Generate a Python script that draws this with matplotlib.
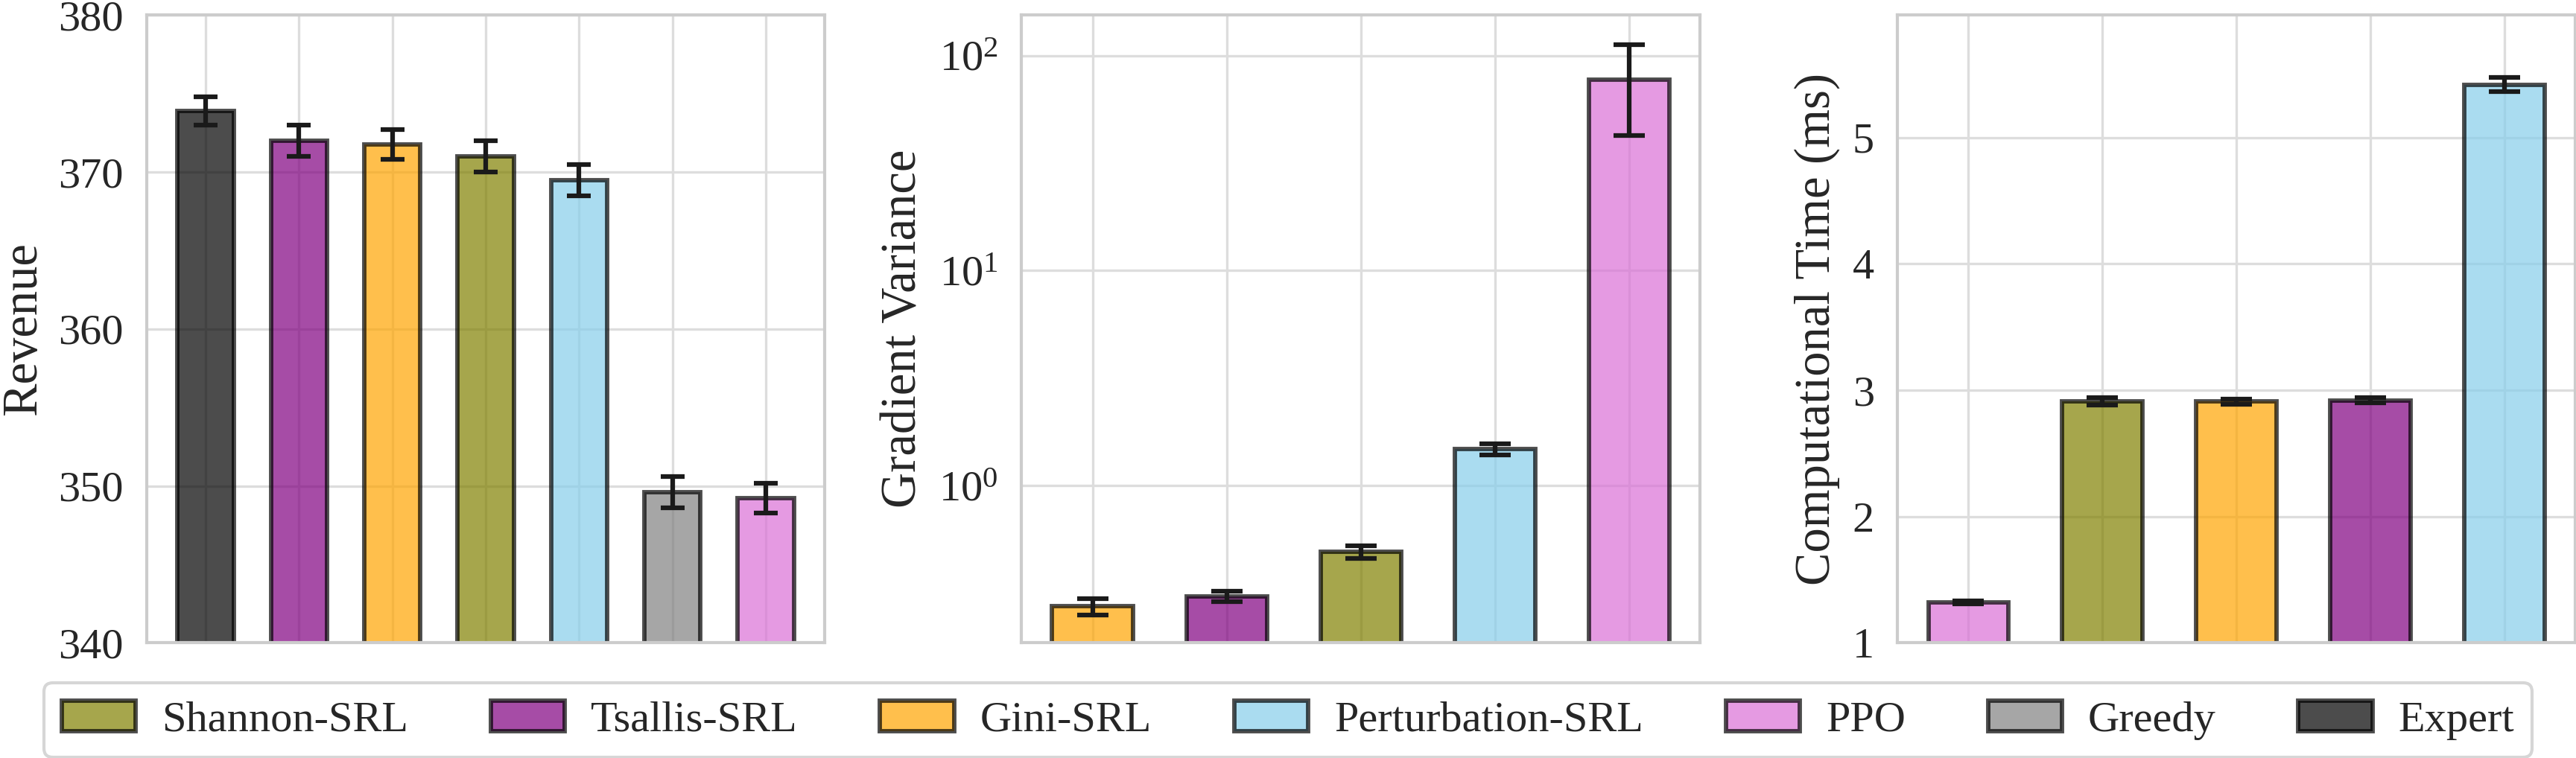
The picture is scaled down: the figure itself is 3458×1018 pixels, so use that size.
import numpy as np
import matplotlib
matplotlib.use("Agg")
import matplotlib.pyplot as plt
import seaborn as sns
from matplotlib.patches import Patch

sns.set_style("whitegrid")
plt.rcParams['font.family'] = ['Liberation Serif', 'DejaVu Serif']
plt.rcParams['mathtext.fontset'] = 'stix'
plt.rcParams['axes.edgecolor'] = '#cccccc'
plt.rcParams['axes.linewidth'] = 1.0
plt.rcParams['grid.color'] = '#dddddd'
plt.rcParams['grid.linewidth'] = 0.8

colors = {
    'Shannon-SRL': 'olive',
    'Tsallis-SRL': 'purple',
    'Gini-SRL': 'orange',
    'Perturbation-SRL': 'skyblue',
    'PPO': 'orchid',
    'Greedy': 'gray',
    'Expert': 'black',
}

# panel 1: revenue
rev_methods = ['Expert', 'Tsallis-SRL', 'Gini-SRL', 'Shannon-SRL', 'Perturbation-SRL', 'Greedy', 'PPO']
rev_mean = [373.9, 372.0, 371.75, 371.0, 369.5, 349.6, 349.2]
rev_err = [0.9, 1.0, 0.95, 1.0, 1.0, 1.0, 0.95]

# panel 2: gradient variance (log)
var_methods = ['Gini-SRL', 'Tsallis-SRL', 'Shannon-SRL', 'Perturbation-SRL', 'PPO']
var_mean = [0.275, 0.305, 0.492, 1.48, 77.5]
var_err = [0.024, 0.017, 0.035, 0.09, 35.0]

# panel 3: computational time
time_methods = ['PPO', 'Shannon-SRL', 'Gini-SRL', 'Tsallis-SRL', 'Perturbation-SRL']
time_mean = [1.32, 2.91, 2.91, 2.92, 5.42]
time_err = [0.01, 0.03, 0.02, 0.02, 0.055]

legend_order = ['Shannon-SRL', 'Tsallis-SRL', 'Gini-SRL', 'Perturbation-SRL', 'PPO', 'Greedy', 'Expert']

fig = plt.figure(figsize=(3458 / 300, 1018 / 300), dpi=300)
ax1 = fig.add_axes([0.057, 0.152, 0.2631, 0.828])
ax2 = fig.add_axes([0.3965, 0.152, 0.2634, 0.828])
ax3 = fig.add_axes([0.7366, 0.152, 0.2631, 0.828])


def draw(ax, methods, mean, err, capsize):
    x = np.arange(len(methods))
    ax.bar(x, mean, yerr=err, width=0.6, color=[colors[m] for m in methods],
           alpha=0.7, edgecolor='black', linewidth=1.4, capsize=capsize,
           error_kw=dict(elinewidth=1.5, capthick=1.5, ecolor='#1a1a1a'))
    ax.set_xticks(x)
    ax.set_xticklabels([])
    ax.tick_params(axis='y', labelsize=14, pad=4)
    ax.set_axisbelow(True)


draw(ax1, rev_methods, rev_mean, rev_err, 3.8)
ax1.set_ylim(340, 380)
ax1.set_yticks([340, 350, 360, 370, 380])
ax1.set_ylabel('Revenue', fontsize=16)

draw(ax2, var_methods, var_mean, var_err, 5)
ax2.set_yscale('log')
ax2.set_ylim(0.186, 154)
ax2.minorticks_off()
ax2.set_ylabel('Gradient Variance', fontsize=16)

draw(ax3, time_methods, time_mean, time_err, 5)
ax3.set_ylim(1, 5.97)
ax3.set_yticks([1, 2, 3, 4, 5])
ax3.set_ylabel('Computational Time (ms)', fontsize=16)

handles = [Patch(facecolor=colors[m], edgecolor='black', alpha=0.7, linewidth=1.4) for m in legend_order]
fig.legend(handles, legend_order, loc='lower center', bbox_to_anchor=(0.5, 0.001),
           ncol=7, fontsize=14, frameon=True, borderaxespad=0, columnspacing=1.9,
           handlelength=1.7, handletextpad=0.6, edgecolor='#cccccc')

fig.savefig('out.png', dpi=300)
